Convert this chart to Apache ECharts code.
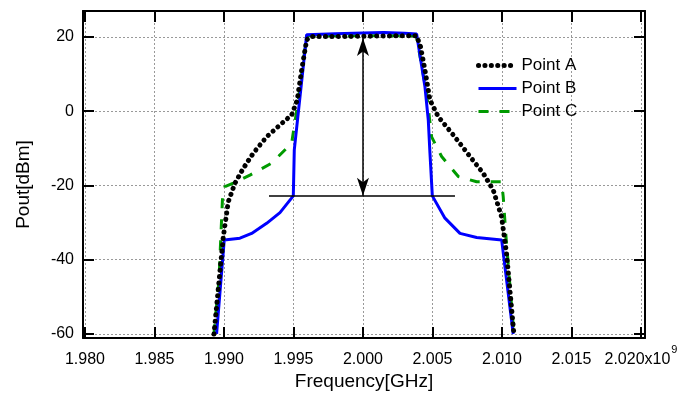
<!DOCTYPE html>
<html>
<head>
<meta charset="utf-8">
<script src="https://cdn.jsdelivr.net/npm/echarts@6/dist/echarts.min.js"></script>
<style>
  html, body { margin: 0; padding: 0; background: #fff; }
  #chart { width: 691px; height: 397px; }
</style>
</head>
<body>
<div id="chart"></div>
<script>
// ---- data (frequency in GHz, power in dBm) ----
const seriesNames = ['Point A', 'Point B', 'Point C'];

const freqA = [1.98928, 1.98995, 1.99031, 1.99079, 1.99139, 1.99211, 1.99307, 1.99403, 1.99487, 1.99527, 1.99559, 1.99595, 1.99619, 1.998, 2.000, 2.002, 2.00386, 2.00414, 2.00446, 2.00482, 2.00542, 2.00650, 2.00770, 2.00865, 2.00937, 2.00997, 2.01033, 2.01086];
const powA  = [-60, -33.9, -24.4, -19.4, -15.4, -11.3, -6.9, -3.7, -1.0, 3.0, 11.1, 19.2, 20.1, 20.1, 20.2, 20.3, 20.3, 17.4, 11.1, 3.0, -1.5, -6.4, -12.2, -16.7, -21.2, -28.4, -38.3, -60];

const freqB = [1.98947, 1.99002, 1.99115, 1.99199, 1.99307, 1.99403, 1.99499, 1.99506, 1.99595, 1.998, 2.000, 2.0015, 2.003, 2.00386, 2.00446, 2.00470, 2.00482, 2.00499, 2.00590, 2.00698, 2.00818, 2.00998, 2.01081];
const powB  = [-60, -34.7, -34.2, -32.9, -30.2, -27.3, -22.8, -10.4, 20.6, 20.9, 21.1, 21.2, 21.0, 20.8, 6.6, -2.4, -11.3, -22.8, -28.8, -32.9, -34.0, -34.7, -60];

const freqC = [1.98928, 1.98964, 1.98989, 1.99007, 1.99079, 1.99187, 1.99343, 1.99487, 1.99535, 1.99595, 2.000, 2.00384, 2.00458, 2.00494, 2.00566, 2.00686, 2.00818, 2.00997, 2.01009, 2.01029, 2.01058, 2.01086];
const powC  = [-60, -45.5, -23.9, -20.3, -19.2, -17.2, -14.0, -8.6, 3.0, 20.3, 20.3, 20.3, 4.8, -6.9, -12.2, -17.6, -19.0, -19.0, -23.0, -33.8, -47.3, -60];

// annotation: double arrow and reference level line
const arrowFreq = 2.000;
const arrowLevels = [19.7, -22.75];
const refLineFreqs = [1.99324, 2.00662];
const refLineLevel = -22.8;

// axis extents
const xRange = [1.97986, 2.02029];
const yRange = [-61.08, 27.0];
const xTickLast = 2.020;

function pairs(xs, ys) { return xs.map((x, i) => [x, ys[i]]); }

const FONT = "'Liberation Sans', Arial, Helvetica, sans-serif";
const chart = echarts.init(document.getElementById('chart'), null, { renderer: 'canvas' });

const axisLineStyle = { show: true, onZero: false, lineStyle: { color: '#000', width: 2 } };
const tickStyle = { show: true, inside: true, length: 11, lineStyle: { color: '#000', width: 2 } };

const styleA = { color: '#000', width: 5, type: [0.1, 6.3], cap: 'round' };
const styleB = { color: '#0000ff', width: 3, type: 'solid' };
const styleC = { color: '#009a00', width: 3, type: [10, 11] };

const option = {
  animation: false,
  backgroundColor: '#fff',
  grid: { left: 83, top: 11, width: 562, height: 327, containLabel: false },
  legend: {
    orient: 'vertical',
    left: 476, top: 57,
    padding: 0,
    itemWidth: 38, itemHeight: 14, itemGap: 6,
    textStyle: { fontFamily: FONT, fontSize: 17, color: '#000' },
    itemStyle: { opacity: 0, borderWidth: 0 },
    data: [
      { name: 'Point A', lineStyle: styleA },
      { name: 'Point B', lineStyle: styleB },
      { name: 'Point C', lineStyle: styleC }
    ]
  },
  xAxis: [
    {
      type: 'value', position: 'bottom',
      min: xRange[0], max: xRange[1], splitNumber: 8,
      axisLine: axisLineStyle, axisTick: tickStyle,
      splitLine: { show: true, lineStyle: { color: '#999', type: [2, 2], width: 1 } },
      axisLabel: {
        showMinLabel: false, showMaxLabel: false,
        margin: 6,
        fontFamily: FONT, fontSize: 16, color: '#000',
        formatter: function (v) {
          const s = v.toFixed(3);
          if (Math.abs(v - xTickLast) < 1e-6) return '{a|' + s + 'x10}{s|9}';
          return '{a|' + s + '}';
        },
        rich: {
          a: { fontFamily: FONT, fontSize: 16, color: '#000', lineHeight: 31, verticalAlign: 'middle' },
          s: { fontFamily: FONT, fontSize: 11, color: '#000', lineHeight: 12, verticalAlign: 'top', padding: [0, 0, 0, 1] }
        }
      },
      name: 'Frequency[GHz]', nameLocation: 'middle', nameGap: 34,
      nameTextStyle: { fontFamily: FONT, fontSize: 19, color: '#000' }
    },
    {
      type: 'value', position: 'top',
      min: xRange[0], max: xRange[1], splitNumber: 8,
      axisLine: axisLineStyle, axisTick: tickStyle,
      splitLine: { show: false }, axisLabel: { show: false }
    }
  ],
  yAxis: [
    {
      type: 'value', position: 'left',
      min: yRange[0], max: yRange[1], splitNumber: 4,
      axisLine: axisLineStyle, axisTick: tickStyle,
      splitLine: { show: true, lineStyle: { color: '#999', type: [2, 2], width: 1 } },
      axisLabel: {
        showMinLabel: false, showMaxLabel: false,
        margin: 9, fontFamily: FONT, fontSize: 16, color: '#000'
      },
      name: 'Pout[dBm]', nameLocation: 'middle', nameGap: 50,
      nameTextStyle: { fontFamily: FONT, fontSize: 19, color: '#000', padding: [0, 20, 0, 0] }
    },
    {
      type: 'value', position: 'right',
      min: yRange[0], max: yRange[1], splitNumber: 4,
      axisLine: axisLineStyle, axisTick: tickStyle,
      splitLine: { show: false }, axisLabel: { show: false }
    }
  ],
  series: [
    {
      name: 'Point C', type: 'line', data: pairs(freqC, powC),
      symbol: 'none', smooth: false, z: 2,
      lineStyle: styleC,
      itemStyle: { color: styleC.color }
    },
    {
      name: 'Point B', type: 'line', data: pairs(freqB, powB),
      symbol: 'none', smooth: false, z: 3,
      lineStyle: styleB,
      itemStyle: { color: styleB.color }
    },
    {
      name: 'Point A', type: 'line', data: pairs(freqA, powA),
      symbol: 'none', smooth: false, z: 4,
      lineStyle: styleA,
      itemStyle: { color: styleA.color },
      markLine: {
        silent: true, animation: false,
        label: { show: false },
        emphasis: { disabled: true },
        data: [
          [
            { coord: [arrowFreq, arrowLevels[0]], symbol: 'arrow', symbolSize: [9, 18], lineStyle: { color: '#000', width: 1.5, type: 'solid', cap: 'butt' } },
            { coord: [arrowFreq, arrowLevels[1]], symbol: 'arrow', symbolSize: [9, 18] }
          ],
          [
            { coord: [refLineFreqs[0], refLineLevel], symbol: 'none', lineStyle: { color: '#000', width: 1.5, type: 'solid', cap: 'butt' } },
            { coord: [refLineFreqs[1], refLineLevel], symbol: 'none' }
          ]
        ]
      }
    }
  ]
};

chart.setOption(option);
</script>
</body>
</html>
